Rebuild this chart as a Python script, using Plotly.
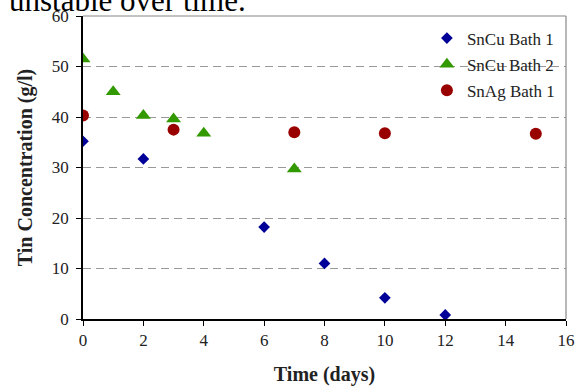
import plotly.graph_objects as go

days_b1 = [0, 2, 6, 8, 10, 12]
conc_b1 = [35.2, 31.7, 18.2, 11.0, 4.2, 0.8]
days_b2 = [0, 1, 2, 3, 4, 7]
conc_b2 = [51.5, 45.0, 40.3, 39.6, 36.8, 29.7]
days_ag = [0, 3, 7, 10, 15]
conc_ag = [40.3, 37.5, 37.0, 36.8, 36.7]

x_ticks = [0, 2, 4, 6, 8, 10, 12, 14, 16]
y_ticks = [0, 10, 20, 30, 40, 50, 60]

font = "Liberation Serif, Times New Roman, serif"

fig = go.Figure()
fig.add_trace(go.Scatter(x=days_b1, y=conc_b1, mode="markers", name="SnCu Bath 1",
                         legendgroup="a",
                         marker=dict(symbol="diamond", size=9, color="#000099")))
fig.add_trace(go.Scatter(x=days_b2, y=conc_b2, mode="markers", name="SnCu Bath 2",
                         legendgroup="b",
                         marker=dict(symbol="triangle-up", size=13, color="#339900")))
fig.add_trace(go.Scatter(x=days_ag, y=conc_ag, mode="markers", name="SnAg Bath 1",
                         legendgroup="c",
                         marker=dict(symbol="circle", size=12, color="#990000")))

fig.update_layout(
    width=586, height=387,
    margin=dict(l=83, r=20, t=16, b=68, autoexpand=False),
    paper_bgcolor="white", plot_bgcolor="white",
    font=dict(family=font, size=17, color="#222222"),
    showlegend=True,
    legend=dict(x=0.712, y=0.985, xanchor="left", yanchor="top",
                bgcolor="rgba(0,0,0,0)", font=dict(size=17, family=font, color="#222222"),
                traceorder="grouped", tracegroupgap=1, itemwidth=30),
    xaxis=dict(range=[0, 16], tickvals=x_ticks, showgrid=False, zeroline=False,
               showline=True, linecolor="black", linewidth=1.5, automargin=False,
               ticks="outside", ticklen=5, tickcolor="black",
               title=dict(text="<b>Time (days)</b>", font=dict(size=20, family=font), standoff=18)),
    yaxis=dict(range=[0, 60], tickvals=y_ticks, showgrid=True, gridcolor="#999999",
               griddash="8px,5px", gridwidth=1.2, zeroline=False, automargin=False,
               showline=True, linecolor="black", linewidth=1.5,
               ticks="outside", ticklen=5, tickcolor="black", ticklabelstandoff=4,
               title=dict(text="<b>Tin Concentration (g/l)</b>", font=dict(size=20, family=font), standoff=14)),
    shapes=[
        dict(type="line", xref="paper", yref="paper", x0=0, x1=1, y0=1, y1=1,
             line=dict(color="#888888", width=1.2)),
        dict(type="line", xref="paper", yref="paper", x0=1, x1=1, y0=0, y1=1,
             line=dict(color="#888888", width=1.2)),
    ],
    annotations=[
        dict(text="unstable over time.", xref="paper", yref="paper", x=-0.157, y=1.0,
             xanchor="left", yanchor="bottom", yshift=-4, showarrow=False,
             font=dict(family=font, size=31, color="black")),
    ],
)

fig.write_html("out.html", config={"displayModeBar": False},
               post_script="document.body.style.margin='0';")
